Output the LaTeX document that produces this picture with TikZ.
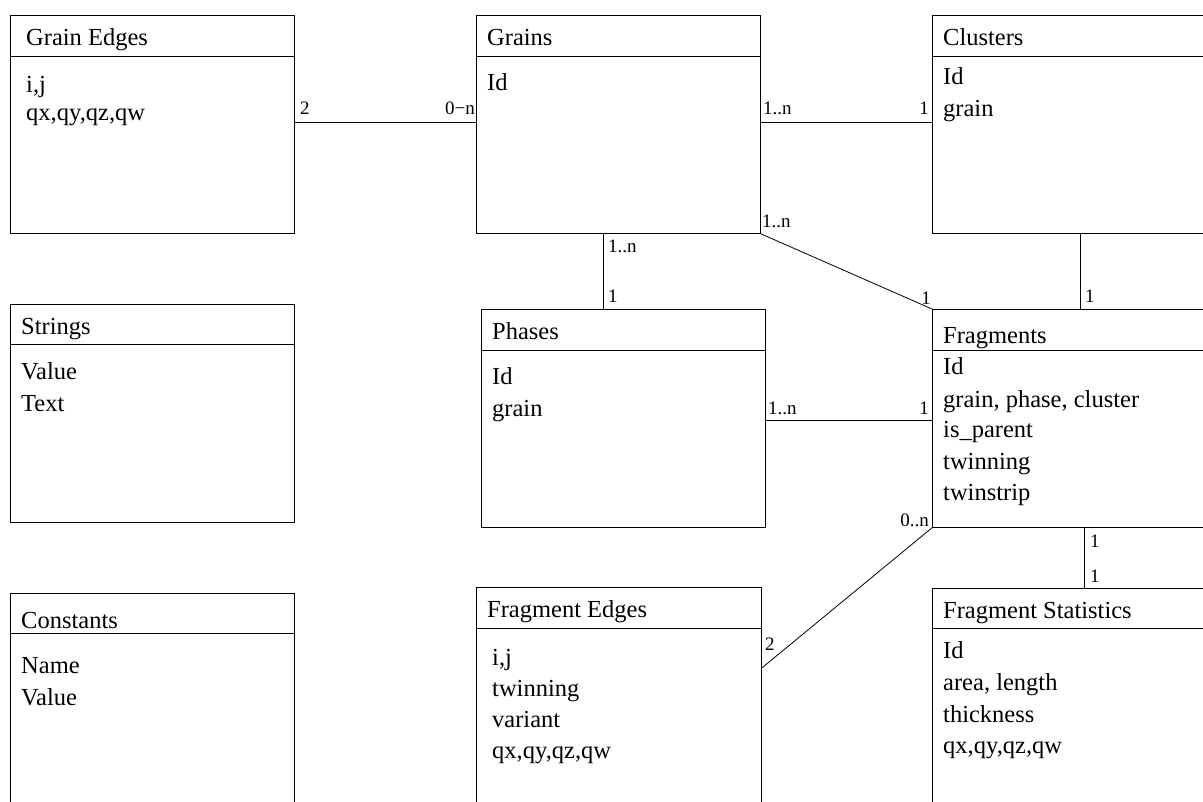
\documentclass[tikz,border=0pt]{standalone}
\usepackage{fontspec}
\setmainfont{Liberation Serif}
\usetikzlibrary{calc}
\newcommand{\fldfont}{\fontsize{24.5}{28}\selectfont}
\newcommand{\lblfont}{\fontsize{19}{22}\selectfont}
\begin{document}
\begin{tikzpicture}[x=1pt,y=-1pt,
  tbl/.style={draw, line width=0.8pt, rectangle, inner sep=0pt, anchor=north west},
  fld/.style={font=\fldfont, inner sep=0pt, anchor=base west},
  lbl/.style={font=\lblfont, inner sep=0pt, anchor=base west},
  lblr/.style={font=\lblfont, inner sep=0pt, anchor=base east},
  conn/.style={line width=0.8pt}]
\useasboundingbox (0,0) rectangle (1203,802);
\fill[white] (0,0) rectangle (1203,802);

% tables
\node[tbl, minimum width=284pt, minimum height=218pt] (ge) at (10,15) {};
\node[tbl, minimum width=284pt, minimum height=218pt] (gr) at (476,15) {};
\node[tbl, minimum width=290pt, minimum height=218pt] (cl) at (932,15) {};
\node[tbl, minimum width=284pt, minimum height=218pt] (st) at (10,304) {};
\node[tbl, minimum width=284pt, minimum height=218pt] (ph) at (481,309) {};
\node[tbl, minimum width=290pt, minimum height=218pt] (fr) at (932,309) {};
\node[tbl, minimum width=284pt, minimum height=240pt] (co) at (10,593) {};
\node[tbl, minimum width=285pt, minimum height=240pt] (fe) at (476,587) {};
\node[tbl, minimum width=290pt, minimum height=240pt] (fs) at (932,588) {};

% dividers
\draw[conn] (ge.north west) ++(0,41) -- ++(284,0);
\draw[conn] (gr.north west) ++(0,41) -- ++(284,0);
\draw[conn] (cl.north west) ++(0,41) -- ++(290,0);
\draw[conn] (st.north west) ++(0,40) -- ++(284,0);
\draw[conn] (ph.north west) ++(0,41) -- ++(284,0);
\draw[conn] (fr.north west) ++(0,41) -- ++(290,0);
\draw[conn] (co.north west) ++(0,40) -- ++(284,0);
\draw[conn] (fe.north west) ++(0,41) -- ++(285,0);
\draw[conn] (fs.north west) ++(0,40) -- ++(290,0);

% texts: Grain Edges
\node[fld] (ge-t) at (26,46) {Grain Edges};
\node[fld] (ge-1) at (26,93) {i,j};
\node[fld] (ge-2) at (26,121) {qx,qy,qz,qw};
% Grains
\node[fld] (gr-t) at (487,46) {Grains};
\node[fld] (gr-1) at (487,91) {Id};
% Clusters
\node[fld] (cl-t) at (943,46) {Clusters};
\node[fld] (cl-1) at (943,85) {Id};
\node[fld] (cl-2) at (943,117) {grain};
% Strings
\node[fld] (st-t) at (21,335) {Strings};
\node[fld] (st-1) at (21,380) {Value};
\node[fld] (st-2) at (21,412) {Text};
% Phases
\node[fld] (ph-t) at (492,340) {Phases};
\node[fld] (ph-1) at (492,385) {Id};
\node[fld] (ph-2) at (492,417) {grain};
% Fragments
\node[fld] (fr-t) at (943,344) {Fragments};
\node[fld] (fr-1) at (943,375) {Id};
\node[fld] (fr-2) at (943,407) {grain, phase, cluster};
\node[fld] (fr-3) at (943,438) {is\_parent};
\node[fld] (fr-4) at (943,469) {twinning};
\node[fld] (fr-5) at (943,500) {twinstrip};
% Constants
\node[fld] (co-t) at (21,628) {Constants};
\node[fld] (co-1) at (21,673) {Name};
\node[fld] (co-2) at (21,705) {Value};
% Fragment Edges
\node[fld] (fe-t) at (487,617) {Fragment Edges};
\node[fld] (fe-1) at (492,665) {i,j};
\node[fld] (fe-2) at (492,696) {twinning};
\node[fld] (fe-3) at (492,727) {variant};
\node[fld] (fe-4) at (492,758) {qx,qy,qz,qw};
% Fragment Statistics
\node[fld] (fs-t) at (943,618) {Fragment Statistics};
\node[fld] (fs-1) at (943,658) {Id};
\node[fld] (fs-2) at (943,690) {area, length};
\node[fld] (fs-3) at (943,722) {thickness};
\node[fld] (fs-4) at (943,753) {qx,qy,qz,qw};

% connectors
\draw[conn] (ge.north east) ++(0,107) coordinate (c1a) -- (c1a -| gr.west) coordinate (c1b);
\draw[conn] (gr.north east) ++(0,107) coordinate (c2a) -- (c2a -| cl.west) coordinate (c2b);
\draw[conn] (gr.south west) ++(127,0) coordinate (c3a) -- (c3a |- ph.north) coordinate (c3b);
\draw[conn] (gr.south east) -- (fr.north west);
\draw[conn] (cl.south west) ++(148,0) coordinate (c5a) -- (c5a |- fr.north) coordinate (c5b);
\draw[conn] (ph.north east) ++(0,111) coordinate (c6a) -- (c6a -| fr.west) coordinate (c6b);
\draw[conn] (fr.south west) -- ($(fe.north east)+(0,81)$) coordinate (c7b);
\draw[conn] (fr.south west) ++(152,0) coordinate (c8a) -- (c8a |- fs.north) coordinate (c8b);

% cardinality labels
\node[lbl] (l1a) at (300,115) {2};
\node[lblr] (l1b) at (475,115) {0−n};
\node[lbl] (l2a) at (763,115) {1..n};
\node[lblr] (l2b) at (929,115) {1};
\node[lbl] (l3a) at (608,253) {1..n};
\node[lbl] (l3b) at (608,303) {1};
\node[lbl] (l4a) at (762,228) {1..n};
\node[lblr] (l4b) at (931,305) {1};
\node[lbl] (l5b) at (1085,303) {1};
\node[lbl] (l6a) at (768,414) {1..n};
\node[lblr] (l6b) at (929,414) {1};
\node[lblr] (l7a) at (929,526) {0..n};
\node[lbl] (l7b) at (765,650) {2};
\node[lbl] (l8a) at (1090,547) {1};
\node[lbl] (l8b) at (1090,582) {1};
\end{tikzpicture}
\end{document}
